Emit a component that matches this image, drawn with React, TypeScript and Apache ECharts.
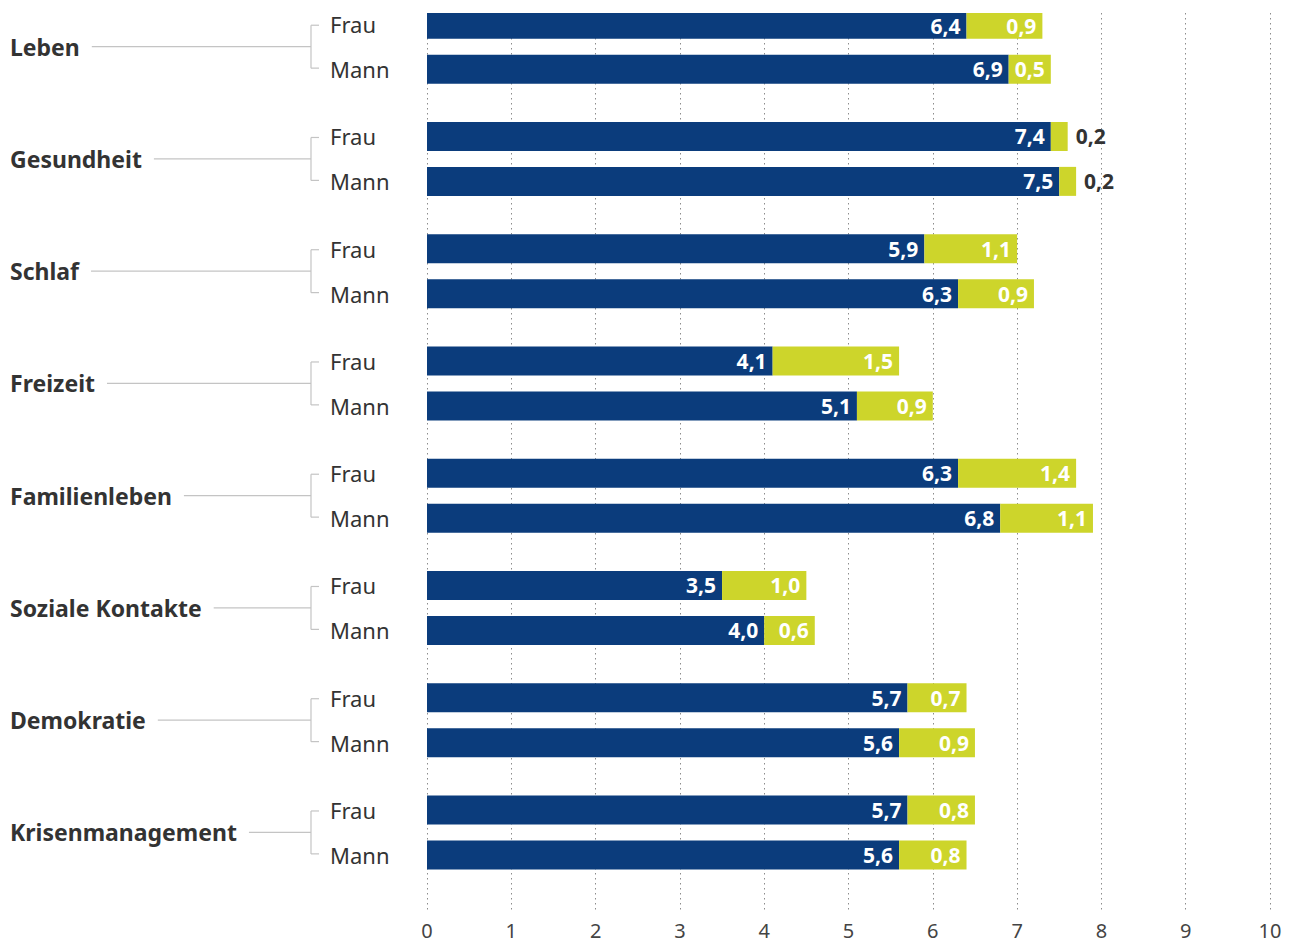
import React, { useEffect, useRef } from "react";
import * as echarts from "echarts";

const categories = ["Leben", "Gesundheit", "Schlaf", "Freizeit", "Familienleben", "Soziale Kontakte", "Demokratie", "Krisenmanagement"];
const genders = ["Frau", "Mann"];
const frauBase = [6.4, 7.4, 5.9, 4.1, 6.3, 3.5, 5.7, 5.7];
const frauExtra = [0.9, 0.2, 1.1, 1.5, 1.4, 1.0, 0.7, 0.8];
const mannBase = [6.9, 7.5, 6.3, 5.1, 6.8, 4.0, 5.6, 5.6];
const mannExtra = [0.5, 0.2, 0.9, 0.9, 1.1, 0.6, 0.9, 0.8];

const NAVY = "#0b3c7c";
const LIME = "#cdd52b";
const FONT = "'Noto Sans', sans-serif";
const SLOTS_PER_GROUP = 5;
const FRAU_SLOT = 0;
const MANN_SLOT = 2;

const fmt = (v: number) => v.toFixed(1).replace(".", ",");

export default function App() {
  const ref = useRef<HTMLDivElement>(null);
  useEffect(() => {
    if (!ref.current) return;
    const chart = echarts.init(ref.current, null, { renderer: "svg" });
    const n = categories.length * SLOTS_PER_GROUP;
    const slotLabels: string[] = new Array(n).fill("");
    const base: any[] = new Array(n).fill("-");
    const extra: any[] = new Array(n).fill("-");
    categories.forEach((_, g) => {
      const fi = g * SLOTS_PER_GROUP + FRAU_SLOT;
      const mi = g * SLOTS_PER_GROUP + MANN_SLOT;
      slotLabels[fi] = genders[0];
      slotLabels[mi] = genders[1];
      base[fi] = frauBase[g];
      base[mi] = mannBase[g];
      [[fi, frauExtra[g]], [mi, mannExtra[g]]].forEach(([idx, v]) => {
        const small = v < 0.3;
        extra[idx] = small
          ? { value: v, label: { position: "right", color: "#333", distance: 8 } }
          : v;
      });
    });
    const ids = slotLabels.map((_, i) => String(i));

    chart.setOption({
      animation: false,
      grid: { left: 427, right: 23, top: 13, height: 898, containLabel: false },
      xAxis: {
        type: "value",
        min: 0,
        max: 10,
        interval: 1,
        axisLine: { show: false },
        axisTick: { show: false },
        axisLabel: { color: "#444", fontSize: 20, fontFamily: FONT, margin: 9 },
        splitLine: { show: true, lineStyle: { type: [1.5, 3.5], color: "#8c8c8c", width: 1 } },
      },
      yAxis: {
        type: "category",
        data: ids,
        inverse: true,
        axisLine: { show: false },
        axisTick: { show: false },
        axisLabel: {
          align: "left",
          margin: 97,
          color: "#333",
          fontSize: 22,
          fontFamily: FONT,
          interval: 0,
          formatter: (val: string) => slotLabels[Number(val)],
        },
      },
      series: [
        {
          type: "bar",
          stack: "total",
          barWidth: 29,
          data: base,
          itemStyle: { color: NAVY },
          label: {
            show: true,
            position: "insideRight",
            distance: 6,
            color: "#fff",
            fontWeight: "bold",
            fontSize: 21,
            fontFamily: FONT,
            formatter: (p: any) => fmt(p.value),
          },
        },
        {
          type: "bar",
          stack: "total",
          barWidth: 29,
          data: extra,
          itemStyle: { color: LIME },
          label: {
            show: true,
            position: "insideRight",
            distance: 6,
            color: "#fff",
            fontWeight: "bold",
            fontSize: 21,
            fontFamily: FONT,
            formatter: (p: any) => fmt(typeof p.value === "number" ? p.value : Number(p.value)),
          },
        },
      ],
    });

    // Category names and bracket connectors, positioned from the axis scale
    const canvas = document.createElement("canvas");
    const ctx = canvas.getContext("2d")!;
    const nameFont = "bold 23px 'Noto Sans'";
    ctx.font = nameFont;
    const bracketX = 311;
    const tickEnd = 319;
    const textX = 10;
    const elements: any[] = [];
    categories.forEach((name, g) => {
      const fy = chart.convertToPixel({ yAxisIndex: 0 }, String(g * SLOTS_PER_GROUP + FRAU_SLOT)) as number;
      const my = chart.convertToPixel({ yAxisIndex: 0 }, String(g * SLOTS_PER_GROUP + MANN_SLOT)) as number;
      const mid = (fy + my) / 2;
      const w = ctx.measureText(name).width;
      const ls = { stroke: "#c4c4c4", lineWidth: 1.2 };
      elements.push({
        type: "text",
        x: textX,
        y: mid,
        style: { text: name, font: nameFont, fill: "#333", verticalAlign: "middle", textAlign: "left" },
      });
      elements.push({ type: "line", shape: { x1: textX + w + 12, y1: mid, x2: bracketX, y2: mid }, style: ls });
      elements.push({ type: "line", shape: { x1: bracketX, y1: fy + 1, x2: bracketX, y2: my - 1 }, style: ls });
      elements.push({ type: "line", shape: { x1: bracketX, y1: fy + 1, x2: tickEnd, y2: fy + 1 }, style: ls });
      elements.push({ type: "line", shape: { x1: bracketX, y1: my - 1, x2: tickEnd, y2: my - 1 }, style: ls });
    });
    chart.setOption({ graphic: { elements } });

    return () => chart.dispose();
  }, []);
  return (
    <div
      ref={ref}
      style={{ position: "fixed", left: 0, top: 0, width: 1293, height: 944, background: "#fff" }}
    />
  );
}
